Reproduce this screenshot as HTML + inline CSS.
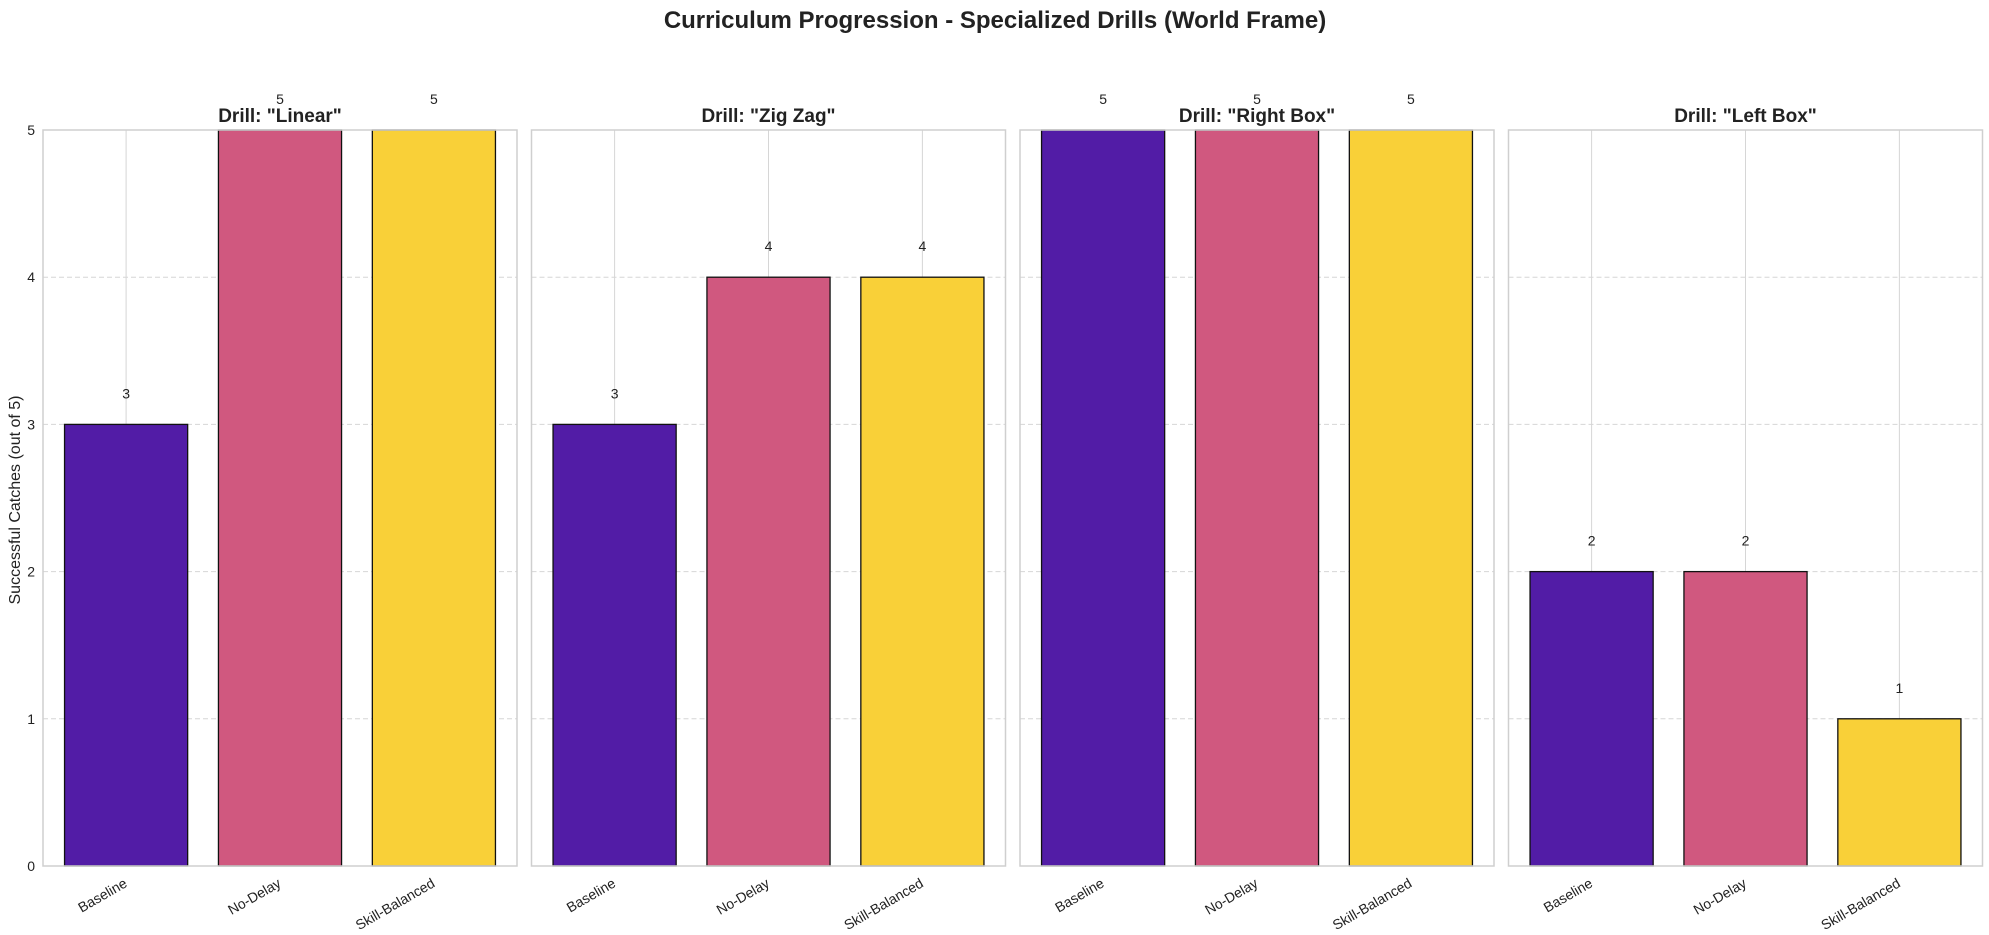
<!DOCTYPE html>
<html><head><meta charset="utf-8"><style>
body{margin:0;background:#fff;}
svg{display:block;font-family:"Liberation Sans",sans-serif;}
</style></head><body>
<svg id="chart" width="1989" height="935" xmlns="http://www.w3.org/2000/svg">
<text x="995" y="28" text-anchor="middle" font-size="24" font-weight="bold" fill="#222">Curriculum Progression - Specialized Drills (World Frame)</text>
<text transform="translate(20,500) rotate(-90)" text-anchor="middle" font-size="16" fill="#222">Successful Catches (out of 5)</text>
</svg>
<script>
const drills = ['Drill: "Linear"', 'Drill: "Zig Zag"', 'Drill: "Right Box"', 'Drill: "Left Box"'];
const methods = ['Baseline', 'No-Delay', 'Skill-Balanced'];
const baselineVals = [3, 3, 5, 2];
const noDelayVals = [5, 4, 5, 2];
const skillVals = [5, 4, 5, 1];
const yTicks = [0, 1, 2, 3, 4, 5];

const series = [baselineVals, noDelayVals, skillVals];
const colors = ['#521ca6', '#d0587f', '#f9d038'];
const NS = 'http://www.w3.org/2000/svg';
const svg = document.getElementById('chart');
const top0 = 130, bot = 866, pw = 474, step = 488.5, left0 = 43;
const xmin = -0.54, xmax = 2.54, ymax = 5;
function el(tag, attrs, parent) {
  const e = document.createElementNS(NS, tag);
  for (const k in attrs) e.setAttribute(k, attrs[k]);
  (parent || svg).appendChild(e);
  return e;
}
drills.forEach((d, p) => {
  const L = left0 + p * step;
  const xs = v => L + (v - xmin) / (xmax - xmin) * pw;
  const ys = v => bot - v / ymax * (bot - top0);
  const g = el('g', {});
  
  
  yTicks.forEach(t => {
    if (t > 0 && t < 5) {
      const gl = el('line', {x1: L, x2: L + pw, y1: ys(t), y2: ys(t), stroke: '#d6d6d6', 'stroke-dasharray': '5,3', 'stroke-width': 1}, g);
      
      
    }
    if (p === 0) {
      const tl = el('text', {x: L - 8, y: ys(t) + 5, 'text-anchor': 'end', 'font-size': 14, fill: '#222'}, g);
      tl.textContent = t;
      
      
    }
  });
  methods.forEach((m, i) => {
    const gl = el('line', {x1: xs(i), x2: xs(i), y1: top0, y2: bot, stroke: '#d6d6d6', 'stroke-width': 1}, g);
    
    
  });
  methods.forEach((m, i) => {
    const v = series[i][p];
    const b = el('rect', {x: xs(i - 0.4), y: ys(v), width: xs(i + 0.4) - xs(i - 0.4), height: bot - ys(v), fill: colors[i], stroke: '#111', 'stroke-width': 1.3}, g);
    
    
    const vl = el('text', {x: xs(i), y: ys(v) - 26, 'text-anchor': 'middle', 'font-size': 14, fill: '#222'}, g);
    vl.textContent = v;
    
    
    const tx = el('text', {transform: 'translate(' + (xs(i) + 2) + ',' + (bot + 20) + ') rotate(-30)', 'text-anchor': 'end', 'font-size': 14, fill: '#222'}, g);
    tx.textContent = m;
    
    
  });
  const fr = el('rect', {x: L, y: top0, width: pw, height: bot - top0, fill: 'none', stroke: '#cfcfcf', 'stroke-width': 1.5}, g);
  
  
  const st = el('text', {x: L + pw / 2, y: 122, 'text-anchor': 'middle', 'font-size': 19, 'font-weight': 'bold', fill: '#222'}, g);
  st.textContent = d;
  
  
});
</script>
</body></html>
